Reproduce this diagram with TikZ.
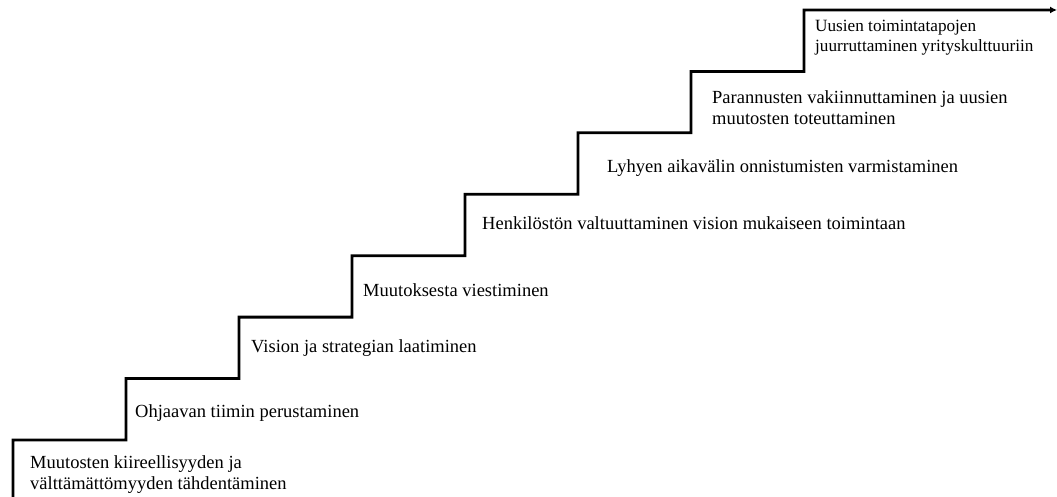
\documentclass[tikz,border=0pt]{standalone}
\usepackage{fontspec}
\setmainfont{Liberation Serif}
\usetikzlibrary{arrows.meta}
\begin{document}
\begin{tikzpicture}
	[x=1pt, y=1pt,
	stair/.style={line width=2.8pt, -{Latex[length=7pt,width=7pt]}},
	phase/.style={anchor=west, inner sep=0pt, align=left,
		font=\fontsize{18.5}{21}\selectfont}]
	\useasboundingbox (0,0) rectangle (1057,497);
	% corners of the steps
	\foreach \i in {0,...,7}
		\coordinate (c\i) at ({13+113*\i},{57+61.43*\i});
	\coordinate (foot) at (13,0);
	\coordinate (top) at (1057,487);
	\draw[stair] (foot) -- (c0) -| (c1) -| (c2) -| (c3) -| (c4) -| (c5) -| (c6) -| (c7) -- (top);
	% phases
	\node[phase] (p1) at (30,22) {Muutosten kiireellisyyden ja\\välttämättömyyden tähdentäminen};
	\node[phase] (p2) at (135,84) {Ohjaavan tiimin perustaminen};
	\node[phase] (p3) at (251,149) {Vision ja strategian laatiminen};
	\node[phase] (p4) at (363,207) {Muutoksesta viestiminen};
	\node[phase] (p5) at (482,274) {Henkilöstön valtuuttaminen vision mukaiseen toimintaan};
	\node[phase] (p6) at (607,329) {Lyhyen aikavälin onnistumisten varmistaminen};
	\node[phase] (p7) at (712,389.5) {Parannusten vakiinnuttaminen ja uusien\\muutosten toteuttaminen};
	\node[phase, font=\fontsize{17.2}{20.5}\selectfont] (p8) at (815,459.5) {Uusien toimintatapojen\\juurruttaminen yrityskulttuuriin};
\end{tikzpicture}
\end{document}
